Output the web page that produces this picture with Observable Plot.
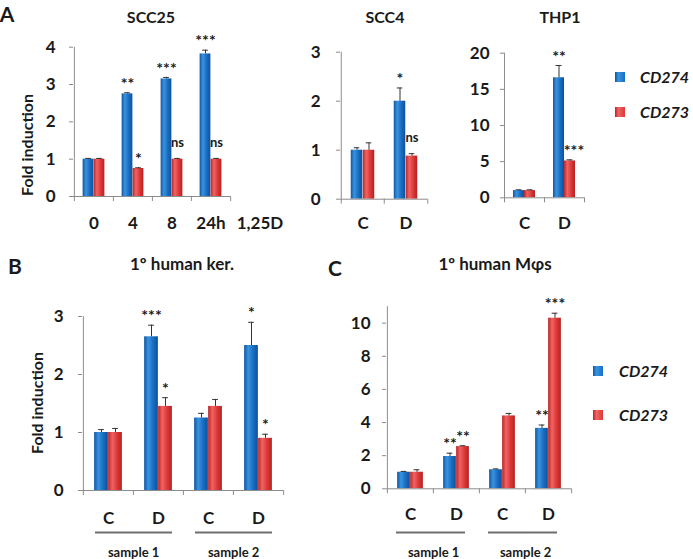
<!DOCTYPE html>
<html>
<head>
<meta charset="utf-8">
<script src="https://cdn.jsdelivr.net/npm/d3@7"></script>
<script src="https://cdn.jsdelivr.net/npm/@observablehq/plot@0.6"></script>
<style>
  html, body { margin: 0; padding: 0; background: #fff; }
  #root { position: relative; width: 693px; height: 559px; overflow: hidden; font-family: Lato, "Open Sans", sans-serif; color: #1a1a1a; }
  .abs { position: absolute; white-space: nowrap; line-height: 1; }
  .c { transform: translate(-50%, -50%); }
  .lbl { font-weight: bold; }
  .sq { position: absolute; width: 10px; height: 10px; }
</style>
</head>
<body>
<div id="root"></div>
<script>
// ---------------- data ----------------
// Panel A – SCC25
const scc25Cats = ["0", "4", "8", "24h"];
const scc25CD274 = [1.0, 2.75, 3.15, 3.82];
const scc25CD274Err = [0.02, 0.03, 0.04, 0.1];
const scc25CD273 = [1.0, 0.75, 1.0, 1.0];
const scc25CD273Err = [0.02, 0.02, 0.02, 0.02];
const scc25Sig274 = ["", "**", "***", "***"];
const scc25Sig273 = ["", "*", "ns", "ns"];

// Panel A – SCC4
const scc4Cats = ["C", "D"];
const scc4CD274 = [1.0, 2.0];
const scc4CD274Err = [0.05, 0.27];
const scc4CD273 = [1.0, 0.88];
const scc4CD273Err = [0.15, 0.05];
const scc4Sig274 = ["", "*"];
const scc4Sig273 = ["", "ns"];

// Panel A – THP1
const thp1Cats = ["C", "D"];
const thp1CD274 = [1.0, 16.6];
const thp1CD274Err = [0.1, 1.7];
const thp1CD273 = [1.0, 5.1];
const thp1CD273Err = [0.1, 0.15];
const thp1Sig274 = ["", "**"];
const thp1Sig273 = ["", "***"];

// Panel B – primary human keratinocytes
const kerCats = ["s1-C", "s1-D", "s2-C", "s2-D"];
const kerLabels = ["C", "D", "C", "D"];
const kerCD274 = [1.0, 2.65, 1.25, 2.5];
const kerCD274Err = [0.05, 0.2, 0.08, 0.4];
const kerCD273 = [1.0, 1.45, 1.45, 0.9];
const kerCD273Err = [0.07, 0.15, 0.12, 0.07];
const kerSig274 = ["", "***", "", "*"];
const kerSig273 = ["", "*", "", "*"];

// Panel C – primary human macrophages
const macCats = ["s1-C", "s1-D", "s2-C", "s2-D"];
const macLabels = ["C", "D", "C", "D"];
const macCD274 = [1.0, 1.95, 1.15, 3.65];
const macCD274Err = [0.05, 0.2, 0.05, 0.2];
const macCD273 = [1.0, 2.55, 4.4, 10.3];
const macCD273Err = [0.15, 0.05, 0.15, 0.3];
const macSig274 = ["", "**", "", "**"];
const macSig273 = ["", "**", "", "***"];

const sampleGroups = [
  {name: "sample 1", first: "s1-C", second: "s1-D"},
  {name: "sample 2", first: "s2-C", second: "s2-D"}
];
const seriesNames = ["CD274", "CD273"];

// ---------------- drawing ----------------
const FONT = "Lato, 'Open Sans', sans-serif";
const AXIS = "#8c8c8c";
const root = document.getElementById("root");

function panel(cfg) {
  const n = cfg.cats.length;
  const bw = (cfg.width - cfg.ml - cfg.mr) / n;
  const half = bw / 2;
  const bW = cfg.barW;
  const rows = (v, e, s) => cfg.cats.map((c, i) => ({cat: c, v: v[i], e: e[i], s: s[i]}));
  const r274 = rows(cfg.v274, cfg.e274, cfg.s274);
  const r273 = rows(cfg.v273, cfg.e273, cfg.s273);
  const last = cfg.cats[n - 1];
  const top = d => d.v + d.e;
  const isStar = d => d.s && d.s !== "ns";
  const isNs = d => d.s === "ns";
  const labelMap = new Map(cfg.cats.map((c, i) => [c, cfg.labels ? cfg.labels[i] : c]));

  const marks = [
    Plot.barY(r274, {x: "cat", y: "v", fill: `url(#g274-${cfg.id})`, insetLeft: half - bW, insetRight: half}),
    Plot.barY(r273, {x: "cat", y: "v", fill: `url(#g273-${cfg.id})`, insetLeft: half, insetRight: half - bW}),
    Plot.ruleX(r274, {x: "cat", y1: "v", y2: top, dx: -bW / 2, stroke: "#333", strokeWidth: 1}),
    Plot.ruleX(r273, {x: "cat", y1: "v", y2: top, dx: bW / 2, stroke: "#333", strokeWidth: 1}),
    Plot.tickY(r274, {x: "cat", y: top, dx: -bW / 2, insetLeft: half - 3, insetRight: half - 3, stroke: "#333", strokeWidth: 1}),
    Plot.tickY(r273, {x: "cat", y: top, dx: bW / 2, insetLeft: half - 3, insetRight: half - 3, stroke: "#333", strokeWidth: 1}),
    // axis lines (Excel style)
    Plot.ruleY([0], {stroke: AXIS, strokeWidth: 1}),
    Plot.ruleX([cfg.cats[0]], {x: d => d, dx: -half, y1: 0, y2: cfg.yDomain[1], stroke: AXIS, strokeWidth: 1}),
    Plot.ruleX(cfg.cats, {x: d => d, dx: -half, y1: 0, y2: 0, insetBottom: -5, stroke: AXIS, strokeWidth: 1}),
    Plot.ruleX([last], {x: d => d, dx: half, y1: 0, y2: 0, insetBottom: -5, stroke: AXIS, strokeWidth: 1}),
    // significance marks
    Plot.text(r274.filter(isStar), {x: "cat", y: top, text: "s", dx: -bW / 2, dy: -9, fontSize: 16, fontWeight: "bold", fill: "#1a1a1a"}),
    Plot.text(r273.filter(isStar), {x: "cat", y: top, text: "s", dx: bW / 2 + (cfg.starShift273 || 0), dy: -9, fontSize: 16, fontWeight: "bold", fill: "#1a1a1a"}),
    Plot.text(r273.filter(isNs), {x: "cat", y: top, text: "s", dx: bW / 2 + (cfg.nsShift || 0), dy: -16, fontSize: 13, fontWeight: "bold", fill: "#1a1a1a"})
  ];
  if (cfg.groups) {
    marks.push(
      Plot.tickY(cfg.groups, {x: "first", y: 0, dy: cfg.lineDy, insetLeft: cfg.ulLeft, stroke: "#6e6e6e", strokeWidth: 2}),
      Plot.tickY(cfg.groups, {x: "second", y: 0, dy: cfg.lineDy, insetRight: cfg.ulRight, stroke: "#6e6e6e", strokeWidth: 2}),
      Plot.text(cfg.groups, {x: "first", y: 0, text: "name", dx: half, dy: cfg.groupDy, fontSize: 13, fontWeight: "bold", fill: "#1a1a1a"})
    );
  }

  const svg = Plot.plot({
    width: cfg.width,
    height: cfg.height,
    marginLeft: cfg.ml,
    marginRight: cfg.mr,
    marginTop: cfg.mt,
    marginBottom: cfg.mb,
    style: {fontFamily: FONT, fontSize: "17px", fontWeight: "bold", color: "#1a1a1a", background: "none", overflow: "visible"},
    x: {type: "band", domain: cfg.cats, padding: 0, tickSize: 0, tickPadding: cfg.xPad, tickFormat: d => labelMap.get(d), label: null},
    y: {domain: cfg.yDomain, ticks: cfg.yTicks, tickFormat: d3.format("d"), tickSize: 4, tickPadding: cfg.yPad, label: null},
    marks
  });

  const s = d3.select(svg);
  const defs = s.insert("defs", ":first-child");
  const grad = (gid, stops) => {
    const g = defs.append("linearGradient").attr("id", gid).attr("x1", "0").attr("x2", "1").attr("y1", "0").attr("y2", "0");
    stops.forEach(([o, c]) => g.append("stop").attr("offset", o).attr("stop-color", c));
  };
  grad(`g274-${cfg.id}`, [[0, "#0f56a3"], [0.3, "#3a93de"], [0.65, "#1a6ec2"], [1, "#0d519c"]]);
  grad(`g273-${cfg.id}`, [[0, "#bb2424"], [0.3, "#f06464"], [0.65, "#dc3838"], [1, "#b52121"]]);
  s.selectAll('[aria-label="y-axis tick"]').attr("stroke", AXIS);
  s.selectAll('[aria-label="y-axis"] .tick line, [aria-label="y-axis"] .domain').attr("stroke", AXIS);

  const wrap = document.createElement("div");
  wrap.style.position = "absolute";
  wrap.style.left = cfg.left + "px";
  wrap.style.top = cfg.top + "px";
  wrap.appendChild(svg);
  root.appendChild(wrap);
}

// Panel A
panel({id: "scc25", left: 0, top: 0, width: 240, height: 240, ml: 73, mr: 10, mt: 46.7, mb: 44,
  cats: scc25Cats, v274: scc25CD274, e274: scc25CD274Err, v273: scc25CD273, e273: scc25CD273Err,
  s274: scc25Sig274, s273: scc25Sig273, yDomain: [0, 4], yTicks: [0, 1, 2, 3, 4], barW: 11, xPad: 20, yPad: 14});
panel({id: "scc4", left: 240, top: 0, width: 190, height: 240, ml: 100, mr: 3, mt: 51.7, mb: 41.3,
  cats: scc4Cats, v274: scc4CD274, e274: scc4CD274Err, v273: scc4CD273, e273: scc4CD273Err,
  s274: scc4Sig274, s273: scc4Sig273, yDomain: [0, 3], yTicks: [0, 1, 2, 3], barW: 12, xPad: 18, yPad: 16});
panel({id: "thp1", left: 430, top: 0, width: 160, height: 240, ml: 74, mr: 6, mt: 52.7, mb: 42.7,
  cats: thp1Cats, v274: thp1CD274, e274: thp1CD274Err, v273: thp1CD273, e273: thp1CD273Err,
  s274: thp1Sig274, s273: thp1Sig273, yDomain: [0, 20], yTicks: [0, 5, 10, 15, 20], barW: 11, xPad: 19, yPad: 11, starShift273: 4});
// Panel B
panel({id: "ker", left: 0, top: 280, width: 300, height: 279, ml: 82, mr: 17, mt: 36, mb: 69,
  cats: kerCats, labels: kerLabels, v274: kerCD274, e274: kerCD274Err, v273: kerCD273, e273: kerCD273Err,
  s274: kerSig274, s273: kerSig273, yDomain: [0, 3], yTicks: [0, 1, 2, 3], barW: 14, xPad: 21, yPad: 15,
  groups: sampleGroups, lineDy: 42, groupDy: 62, ulLeft: 12, ulRight: 11});
// Panel C
panel({id: "mac", left: 320, top: 280, width: 270, height: 279, ml: 66, mr: 19, mt: 26.1, mb: 70.7,
  cats: macCats, labels: macLabels, v274: macCD274, e274: macCD274Err, v273: macCD273, e273: macCD273Err,
  s274: macSig274, s273: macSig273, yDomain: [0, 11], yTicks: [0, 2, 4, 6, 8, 10], barW: 13, xPad: 19, yPad: 12,
  groups: sampleGroups, lineDy: 43.7, groupDy: 63.7, ulLeft: 9, ulRight: 14});

// ---------------- text decorations ----------------
function txt(t, x, y, size, extra = "") {
  const d = document.createElement("div");
  d.className = "abs c lbl";
  d.style.left = x + "px";
  d.style.top = y + "px";
  d.style.fontSize = size + "px";
  if (extra) d.style.cssText += extra;
  d.textContent = t;
  root.appendChild(d);
  return d;
}
txt("A", 7, 13, 21);
txt("B", 15, 265, 21);
txt("C", 335, 267, 21);
txt("SCC25", 151, 17, 16);
txt("SCC4", 385, 17, 16);
txt("THP1", 560, 17, 16);
txt("1,25D", 260, 222, 17);
txt("1º human ker.", 182, 263, 17);
txt("1º human Mφs", 495, 263, 17);
const fa = txt("Fold induction", 27, 145, 16);
fa.style.transform = "translate(-50%, -50%) rotate(-90deg)";
const fb = txt("Fold induction", 37, 403, 16);
fb.style.transform = "translate(-50%, -50%) rotate(-90deg)";

function legend(x, y, gap, textX) {
  const cols = ["linear-gradient(90deg,#0f56a3,#3a93de 35%,#1a6ec2)", "linear-gradient(90deg,#bb2424,#f06464 35%,#dc3838)"];
  seriesNames.forEach((name, i) => {
    const sq = document.createElement("div");
    sq.className = "sq";
    sq.style.left = x + "px";
    sq.style.top = (y + i * gap - 5) + "px";
    sq.style.background = cols[i];
    root.appendChild(sq);
    const t = txt(name, textX, y + i * gap, 16);
    t.style.transform = "translate(0, -50%)";
    t.style.fontStyle = "italic";
  });
}
legend(615, 77, 35, 640);
legend(593, 371, 44, 619);
</script>
</body>
</html>
